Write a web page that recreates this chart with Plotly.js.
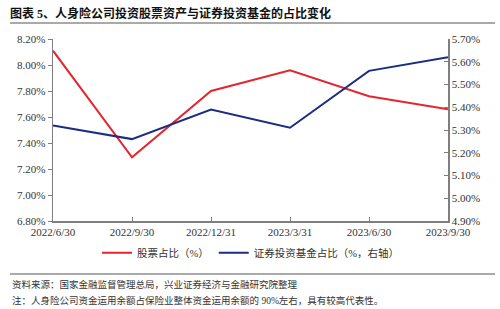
<!DOCTYPE html>
<html>
<head>
<meta charset="utf-8">
<script src="https://cdn.plot.ly/plotly-3.0.1.min.js"></script>
<style>
html,body{margin:0;padding:0;background:#fff;}
#chart{width:500px;height:309px;}
</style>
</head>
<body>
<div id="chart"></div>
<script>
const categories = ["2022/6/30","2022/9/30","2022/12/31","2023/3/31","2023/6/30","2023/9/30"];
const stockShare = [8.11, 7.29, 7.80, 7.96, 7.76, 7.66];
const fundShare = [5.32, 5.26, 5.39, 5.31, 5.56, 5.62];
const stockName = "股票占比（%）";
const fundName = "证券投资基金占比（%，右轴）";
const titleText = "图表 5、人身险公司投资股票资产与证券投资基金的占比变化";
const sourceText = "资料来源：国家金融监督管理总局，兴业证券经济与金融研究院整理";
const noteText = "注：人身险公司资金运用余额占保险业整体资金运用余额的 90%左右，具有较高代表性。";

const serif = "Liberation Serif, Noto Sans CJK SC, serif";
const cjk = "Liberation Serif, Noto Sans CJK SC, sans-serif";
const axisColor = "#7f7f7f";

const traces = [
  {x: categories, y: stockShare, name: stockName, type: "scatter", mode: "lines",
   line: {color: "#E3262F", width: 2}, yaxis: "y"},
  {x: categories, y: fundShare, name: fundName, type: "scatter", mode: "lines",
   line: {color: "#1C2C80", width: 2}, yaxis: "y2"}
];

const layout = {
  width: 500, height: 309,
  margin: {l: 53, r: 52, t: 39, b: 88},
  paper_bgcolor: "#fff", plot_bgcolor: "#fff",
  showlegend: true,
  legend: {orientation: "h", x: 0.5, xanchor: "center", y: -0.175, yanchor: "middle",
           font: {family: cjk, size: 10.5, color: "#333"}, itemwidth: 30, tracegroupgap: 0},
  xaxis: {type: "category", range: [0, 5], showgrid: false, zeroline: false,
          showline: true, linecolor: axisColor, linewidth: 1.5,
          ticks: "inside", ticklen: 4, tickcolor: axisColor, tickwidth: 1,
          tickfont: {family: serif, size: 11, color: "#333"}},
  yaxis: {range: [6.8, 8.2], dtick: 0.2, tickformat: ".2f", ticksuffix: "%",
          showgrid: false, zeroline: false, showline: true, linecolor: axisColor, linewidth: 1.5,
          ticks: "outside", ticklen: 4, tickcolor: axisColor,
          tickfont: {family: serif, size: 11, color: "#333"}},
  yaxis2: {range: [4.9, 5.7], dtick: 0.1, tickformat: ".2f", ticksuffix: "%",
           overlaying: "y", side: "right", showgrid: false, zeroline: false,
           showline: true, linecolor: axisColor, linewidth: 1.5,
           ticks: "inside", ticklen: 4, tickcolor: axisColor,
           tickfont: {family: serif, size: 11, color: "#333"}},
  title: {text: "<b>" + titleText + "</b>", x: 10/500, xanchor: "left", y: 1 - 14/309, yanchor: "middle",
          font: {family: cjk, size: 12, color: "#111"}},
  shapes: [
    {type: "line", xref: "paper", yref: "paper", x0: -43/395, x1: (495-53)/395, y0: 1 + 16/182, y1: 1 + 16/182,
     line: {color: "#555", width: 1}},
    {type: "line", xref: "paper", yref: "paper", x0: -43/395, x1: (495-53)/395, y0: -53/182, y1: -53/182,
     line: {color: "#555", width: 1}}
  ],
  annotations: [
    {text: sourceText, xref: "paper", yref: "paper", x: -43/395, y: -(284-221)/182, xanchor: "left", yanchor: "middle",
     showarrow: false, font: {family: cjk, size: 9.5, color: "#333"}},
    {text: noteText, xref: "paper", yref: "paper", x: -43/395, y: -(300-221)/182, xanchor: "left", yanchor: "middle",
     showarrow: false, font: {family: cjk, size: 9.5, color: "#333"}}
  ]
};

Plotly.newPlot("chart", traces, layout, {displayModeBar: false, staticPlot: true});
</script>
</body>
</html>
